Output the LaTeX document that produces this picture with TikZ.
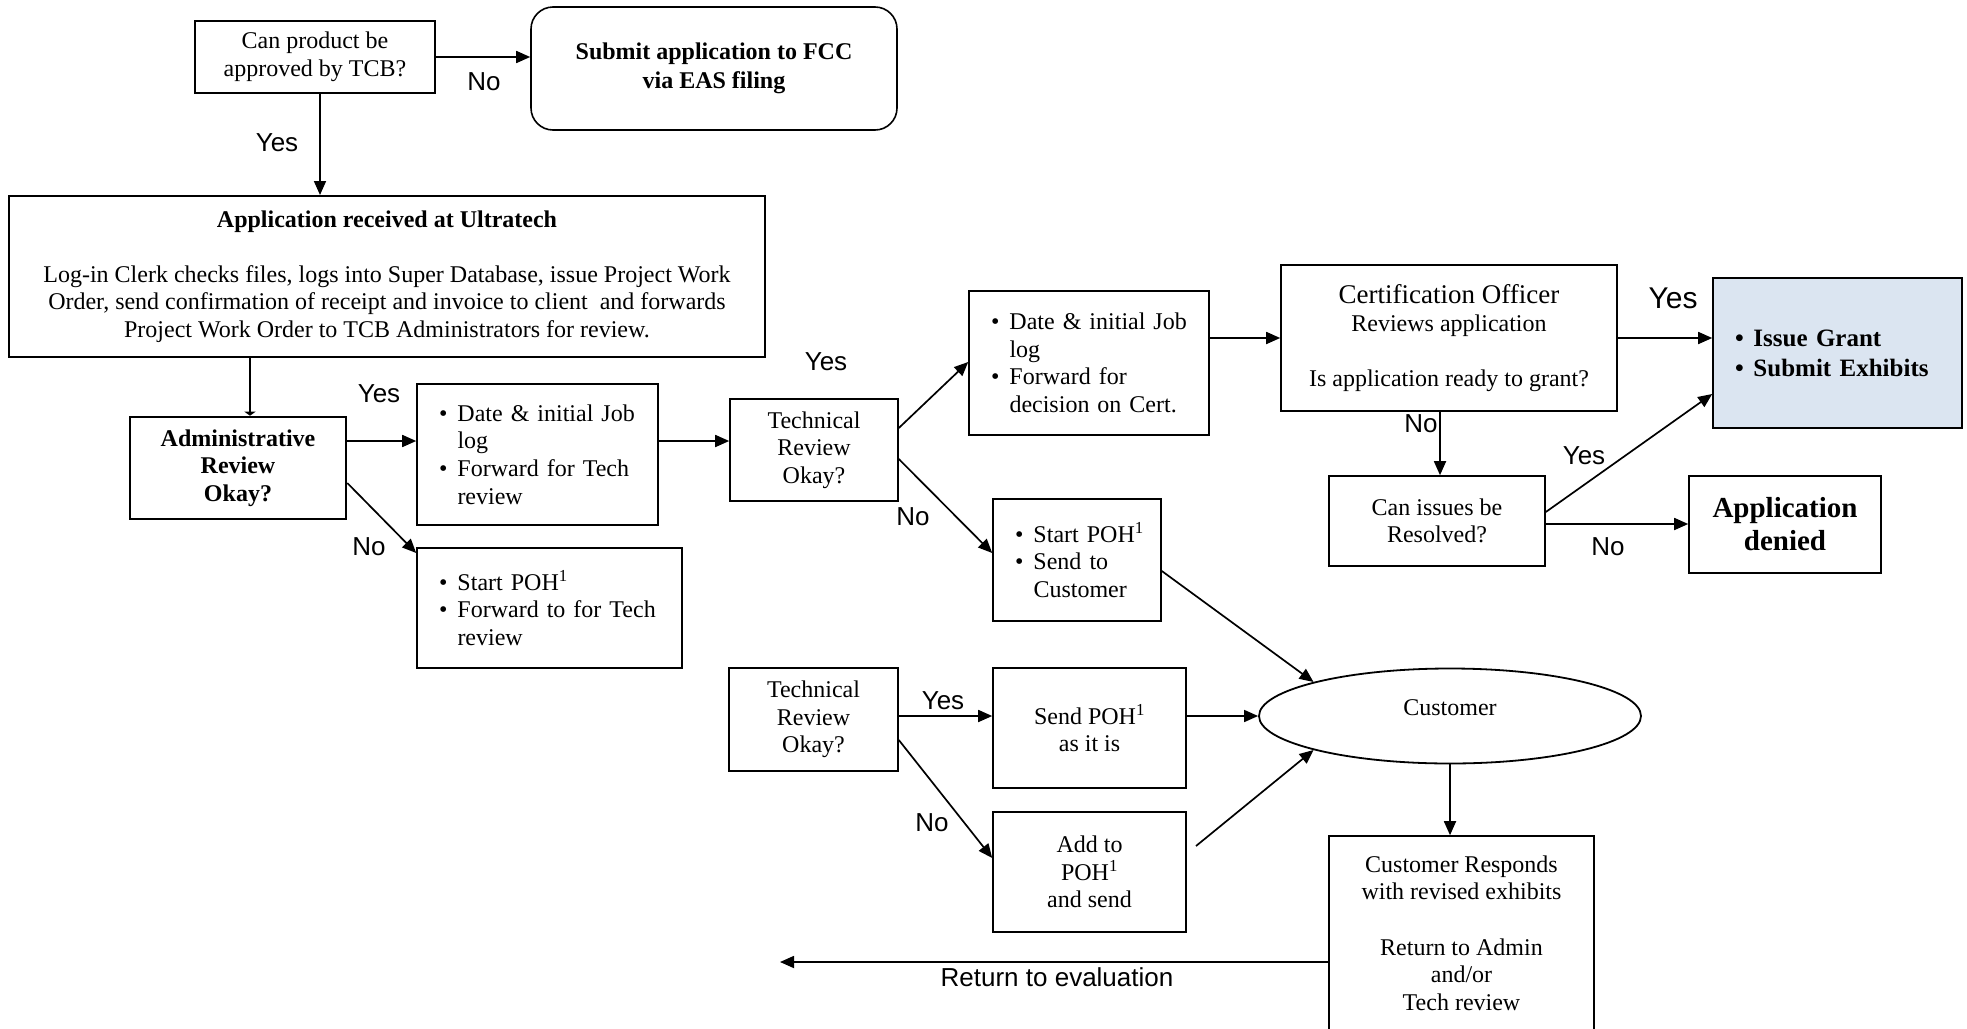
\documentclass[tikz,border=0pt]{standalone}
\usepackage{fontspec}
\setmainfont{Liberation Serif}
\newfontfamily\arialfont{Liberation Sans}
\usetikzlibrary{arrows.meta,shapes.geometric}
\definecolor{grantblue}{RGB}{219,229,241}
\newcommand\bul[1]{\mbox{\makebox[18.5pt][l]{\textbullet}#1}}
\newcommand\hng[1]{\mbox{\hspace*{18.5pt}#1}}
\tikzset{
  box/.style={draw, line width=1.6pt, align=center, inner sep=0pt, font=\fontsize{24}{27.6}\selectfont},
  thickbox/.style={box, line width=2.4pt},
  blist/.style={box, align=left},
  lab/.style={font=\arialfont\fontsize{26}{30}\selectfont, inner sep=0pt},
  biglab/.style={font=\arialfont\fontsize{30}{34}\selectfont, inner sep=0pt},
  arr/.style={line width=1.7pt, -{Triangle[length=14pt,width=12pt]}},
  tinyarr/.style={line width=1.7pt, -{Triangle[length=4pt,width=11pt]}}
}
\begin{document}
\begin{tikzpicture}[x=1pt,y=-1pt]
\fill[white] (0,0) rectangle (1967,1028);
\clip (0,0) rectangle (1967,1028);

% nodes
\node[thickbox, line width=2pt, minimum width=240pt, minimum height=72pt] (tcb) at (315,57) {Can product be\\approved by TCB?};
\node[box, rounded corners=22pt, minimum width=366pt, minimum height=123pt, font=\bfseries\fontsize{24}{29}\selectfont] (fcc) at (714,68.5) {Submit application to FCC\\via EAS filing};
\node[thickbox, line width=2pt, minimum width=756pt, minimum height=161pt] (app) at (387,276.5) {\textbf{Application received at Ultratech}\\[27.6pt]Log-in Clerk checks files, logs into Super Database, issue Project Work\\Order, send confirmation of receipt and invoice to client~ and forwards\\Project Work Order to TCB Administrators for review.};
\node[thickbox, line width=2.6pt, minimum width=216pt, minimum height=102pt, font=\bfseries\fontsize{24}{27.3}\selectfont] (admin) at (238,468) {Administrative\\Review\\Okay?};
\node[blist, minimum width=241pt, minimum height=141pt, text width=197pt] (dj1) at (537.5,454.5) {\bul{Date \& initial Job}\\\hng{log}\\\bul{Forward for Tech}\\\hng{review}};
\node[blist, minimum width=265pt, minimum height=120pt, text width=221pt] (poh1) at (549.5,608) {\bul{Start POH\textsuperscript{1}}\\\bul{Forward to for Tech}\\\hng{review}};
\node[box, minimum width=168pt, minimum height=102pt] (tech1) at (814,450) {Technical\\Review\\Okay?};
\node[blist, minimum width=240pt, minimum height=144pt, text width=196pt] (dj2) at (1089,363) {\bul{Date \& initial Job}\\\hng{log}\\\bul{Forward for}\\\hng{decision on Cert.}};
\node[box, minimum width=336pt, minimum height=146pt] (cert) at (1449,338) {{\fontsize{27}{29}\selectfont Certification Officer}\\Reviews application\\[27.6pt]Is application ready to grant?};
\node[blist, fill=grantblue, minimum width=249pt, minimum height=150pt, text width=205pt, font=\bfseries\fontsize{25}{30}\selectfont] (grant) at (1837.5,353) {\bul{Issue Grant}\\\bul{Submit Exhibits}};
\node[box, minimum width=216pt, minimum height=90pt] (resolve) at (1437,521) {Can issues be\\Resolved?};
\node[box, minimum width=192pt, minimum height=97pt, font=\bfseries\fontsize{29}{33}\selectfont] (denied) at (1785,524.5) {Application\\denied};
\node[blist, minimum width=168pt, minimum height=122pt, text width=124pt] (poh2) at (1077,560) {\bul{Start POH\textsuperscript{1}}\\\bul{Send to}\\\hng{Customer}};
\node[box, minimum width=169pt, minimum height=103pt] (tech2) at (813.5,719.5) {Technical\\Review\\Okay?};
\node[box, minimum width=193pt, minimum height=120pt] (sendpoh) at (1089.5,728) {Send POH\textsuperscript{1}\\as it is};
\node[box, minimum width=193pt, minimum height=120pt] (addpoh) at (1089.5,872) {Add to\\POH\textsuperscript{1}\\and send};
\node[ellipse, draw, line width=1.8pt, minimum width=382pt, minimum height=95pt, inner sep=0pt, font=\fontsize{24}{27.6}\selectfont] (cust) at (1450,716) {\smash{\raisebox{1pt}{Customer}}};
\node[box, minimum width=265pt, minimum height=194pt] (resp) at (1461.5,933) {Customer Responds\\with revised exhibits\\[27.6pt]Return to Admin\\and/or\\Tech review};

\coordinate (addout) at (1196,846);
\coordinate (ret) at (780,962);

% connectors
\draw[arr] (tcb.east) -- (fcc.west |- tcb.east);
\draw[arr] (tcb.south -| 320,0) -- (app.north -| 320,0);
\draw[tinyarr] (app.south -| 250,0) -- (admin.north -| 250,0);
\draw[arr] (admin.east |- 0,441) -- (dj1.west |- 0,441);
\draw[arr] (admin.east |- 0,483) -- (poh1.west |- 0,553);
\draw[arr] (dj1.east |- 0,441) -- (tech1.west |- 0,441);
\draw[arr] (tech1.east |- 0,428) -- (dj2.west |- 0,362);
\draw[arr] (tech1.east |- 0,459) -- (poh2.west |- 0,553);
\draw[arr] (dj2.east |- 0,338) -- (cert.west |- 0,338);
\draw[arr] (cert.east |- 0,338) -- (grant.west |- 0,338);
\draw[arr] (cert.south -| 1440,0) -- (resolve.north -| 1440,0);
\draw[arr] (resolve.east |- 0,512) -- (grant.west |- 0,394);
\draw[arr] (resolve.east |- 0,524) -- (denied.west |- 0,524);
\draw[arr] (poh2.east |- 0,571) -- (cust.166);
\draw[arr] (tech2.east |- 0,716) -- (sendpoh.west |- 0,716);
\draw[arr] (tech2.east |- 0,740) -- (addpoh.west |- 0,858);
\draw[arr] (sendpoh.east |- 0,716) -- (cust.west);
\draw[arr] (addout) -- (cust.194);
\draw[arr] (cust.south) -- (resp.north -| cust.south);
\draw[arr] (resp.west |- 0,962) -- (ret);

% labels
\node[lab] (l1) at (484,82) {No};
\node[lab] (l2) at (277,143) {Yes};
\node[lab] (l3) at (379,394) {Yes};
\node[lab] (l4) at (369,547) {No};
\node[lab] (l5) at (826,362) {Yes};
\node[lab] (l6) at (913,517) {No};
\node[biglab] (l7) at (1673,298) {Yes};
\node[lab] (l8) at (1421,424) {No};
\node[lab] (l9) at (1584,456) {Yes};
\node[lab] (l10) at (1608,547) {No};
\node[lab] (l11) at (943,701) {Yes};
\node[lab] (l12) at (932,823) {No};
\node[lab] (l13) at (1057,977) {Return to evaluation};
\end{tikzpicture}
\end{document}
